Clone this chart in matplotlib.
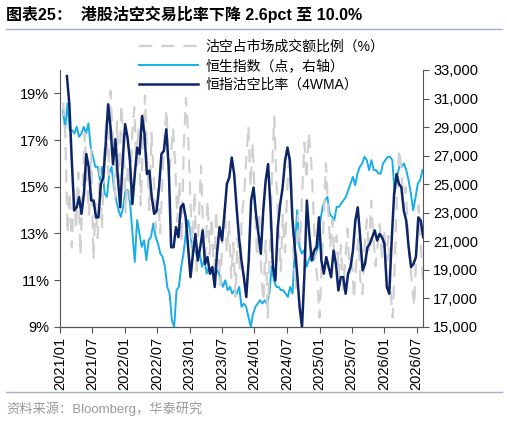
import matplotlib
matplotlib.use("Agg")
import matplotlib.pyplot as plt
import matplotlib.dates as mdates
from matplotlib.ticker import FuncFormatter
import numpy as np
import pandas as pd

plt.rcParams['font.family'] = ['Liberation Sans', 'Noto Sans CJK SC', 'DejaVu Sans']

# 恒指沽空比率 (4WMA), %
ratio_4wma = [19.74, 18.53, 16.11, 13.98, 14.12, 14.55, 13.84, 14.69, 16.40, 15.83,
              14.41, 14.41, 13.69, 13.69, 15.12, 15.40, 16.82, 18.53, 17.53, 15.97,
              17.04, 15.40, 14.12, 16.11, 17.68, 17.11, 16.11, 14.26, 15.54, 16.68,
              16.40, 18.03, 17.25, 15.54, 15.69, 14.55, 13.84, 13.98, 14.97, 16.40,
              16.54, 17.46, 15.83, 12.41, 12.41, 13.27, 12.84, 14.12, 14.26, 13.69,
              12.41, 11.13, 12.13, 12.98, 11.84, 12.41, 13.13, 11.70, 11.99, 11.28,
              11.56, 10.71, 12.27, 13.27, 12.70, 13.84, 15.12, 15.40, 16.25, 15.54,
              14.12, 12.84, 11.84, 11.13, 10.28, 11.84, 14.41, 14.97, 13.84, 12.98,
              12.13, 13.98, 15.26, 15.97, 14.12, 11.56, 10.99, 13.27, 14.26, 14.97,
              16.11, 16.68, 16.11, 13.69, 12.41, 11.28, 9.85, 9.00, 11.28, 14.41,
              12.98, 11.84, 12.27, 12.41, 13.69, 11.84, 11.28, 11.99, 11.56, 11.13,
              12.27, 11.70, 10.56, 11.13, 11.13, 10.42, 11.28, 11.56, 12.27, 13.55,
              14.12, 12.84, 11.42, 11.70, 12.41, 12.56, 12.84, 13.13, 12.70, 12.98,
              12.84, 12.56, 10.71, 10.42, 12.70, 14.69, 15.54, 15.12, 14.97, 13.98,
              13.55, 12.41, 11.56, 11.70, 11.99, 13.69, 13.55, 12.84]

# 恒生指数 (点)
hsi = [30187, 28902, 30654, 28785, 28785, 28551, 29019, 28318, 28551, 29019,
       28551, 29252, 27617, 26916, 26215, 26215, 25280, 26215, 24346, 24112,
       25748, 26215, 24813, 23879, 23178, 22710, 23411, 24579, 24579, 23645,
       21542, 19556, 22477, 21542, 20607, 21075, 19673, 21075, 21308, 22243,
       21308, 20841, 20140, 19907, 19206, 17804, 17336, 15467, 15000, 17570,
       17804, 19206, 20140, 21542, 22477, 21542, 20140, 20607, 19673, 20140,
       19206, 19673, 18738, 19206, 18738, 19206, 18738, 18972, 18271, 17804,
       18271, 17570, 17804, 17336, 17570, 17336, 17804, 16402, 16636, 16402,
       15701, 15000, 15935, 16402, 16636, 16869, 16636, 16869, 16636, 17336,
       19206, 18271, 17804, 17804, 17570, 17570, 17336, 17103, 17804, 17336,
       20607, 23178, 20607, 20140, 20374, 19206, 19673, 20140, 19673, 20140,
       20607, 22477, 23411, 23879, 24112, 22944, 22710, 22477, 23411, 23411,
       23645, 23879, 24112, 24579, 25047, 25514, 24930, 25748, 26215, 26449,
       26916, 26682, 25981, 26682, 25981, 25981, 25748, 25748, 26449, 26682,
       26916, 26916, 26682, 24346, 25514, 26215, 26215, 26449, 25981, 25280,
       24346, 23178, 24066, 25047, 25280, 25981]

# 沽空占市场成交额比例 (%), weekly
short_pct = [18.6, 17.2, 13.0, 14.8, 12.4, 14.9, 13.2, 15.6, 12.1, 14.8,
             17.3, 15.2, 13.8, 16.6, 11.9, 14.3, 12.8, 15.8, 13.2, 16.4,
             17.9, 15.5, 19.1, 17.0, 14.5, 17.8, 15.2, 18.5, 16.8, 13.9,
             16.0, 14.5, 17.2, 18.4, 15.9, 17.6, 14.2, 16.8, 18.9, 16.1,
             14.0, 17.3, 15.5, 13.2, 14.9, 13.0, 15.1, 17.2, 18.3, 15.4,
             16.3, 17.5, 16.0, 13.5, 15.2, 12.6, 16.8, 18.8, 17.3, 14.6,
             12.2, 14.8, 11.4, 13.6, 15.9, 13.0, 11.6, 14.4, 12.1, 13.7,
             11.0, 14.0, 12.5, 10.8, 12.9, 14.1, 12.2, 13.5, 11.1, 12.6,
             10.3, 12.8, 11.5, 13.8, 14.6, 16.2, 17.6, 15.0, 16.9, 14.3,
             12.0, 13.9, 11.2, 10.1, 12.7, 9.4, 12.4, 15.6, 18.0, 15.3,
             13.2, 11.4, 13.8, 12.2, 14.8, 16.5, 15.0, 12.0, 10.6, 13.8,
             12.6, 14.7, 16.9, 15.3, 17.3, 16.4, 14.5, 12.1, 11.0, 9.4,
             11.5, 13.8, 16.0, 14.1, 12.4, 13.6, 11.8, 12.9, 11.2, 12.5,
             10.6, 11.9, 13.2, 11.3, 12.0, 10.2, 11.7, 12.8, 11.0, 10.4,
             12.4, 13.6, 12.2, 14.4, 12.9, 11.6, 12.5, 13.4, 12.0, 13.2,
             11.8, 12.9, 10.6, 9.4, 11.8, 14.8, 16.6, 15.8, 14.1, 15.0,
             13.2, 11.8, 10.8, 9.9, 12.3, 14.2, 12.6, 11.0]

d_ratio = pd.date_range("2021-02-10", "2026-08-07", periods=len(ratio_4wma))
d_hsi = pd.date_range("2021-01-18", "2026-08-03", periods=len(hsi))
d_short = pd.date_range("2021-01-20", "2026-08-05", periods=len(short_pct))

fig = plt.figure(figsize=(5.07, 4.24), dpi=100)
ax = fig.add_axes([0.118, 0.229, 0.716, 0.606])
ax2 = ax.twinx()

l1, = ax.plot(d_short, short_pct, color='#d0d0d0', lw=1.6, dashes=(6, 4),
              label='沽空占市场成交额比例（%）')
l3, = ax.plot(d_ratio, ratio_4wma, color='#0c2468', lw=1.8, label='恒指沽空比率（4WMA）')
l2, = ax2.plot(d_hsi, hsi, color='#1aaee8', lw=1.4, label='恒生指数（点，右轴）')
ax.set_zorder(ax2.get_zorder() + 1)
ax.patch.set_visible(False)

ax.set_ylim(9, 20)
ax.set_yticks([9, 11, 13, 15, 17, 19])
ax.yaxis.set_major_formatter(FuncFormatter(lambda v, p: f"{v:.0f}%"))
ax2.set_ylim(15000, 33000)
ax2.set_yticks(range(15000, 33001, 2000))
ax2.yaxis.set_major_formatter(FuncFormatter(lambda v, p: f"{v:,.0f}"))

ax.set_xlim(pd.Timestamp("2021-01-01"), pd.Timestamp("2026-08-05"))
ax.xaxis.set_major_locator(mdates.MonthLocator(bymonth=[1, 7]))
ax.xaxis.set_major_formatter(mdates.DateFormatter("%Y/%m"))
plt.setp(ax.get_xticklabels(), rotation=90)

for a in (ax, ax2):
    a.spines['top'].set_visible(False)
    for s in a.spines.values():
        s.set_color('#555555')
    a.tick_params(labelsize=10.5, color='#555555', length=4)
ax.spines['right'].set_visible(False)
ax2.spines['left'].set_visible(False)

fig.legend(handles=[l1, l2, l3], loc='upper left', bbox_to_anchor=(0.25, 0.935),
           frameon=False, fontsize=10, handlelength=4.2, labelspacing=0.35,
           handletextpad=0.6)

fig.text(0.012, 0.965, "图表25：  港股沽空交易比率下降 2.6pct 至 10.0%",
         fontsize=11.5, fontweight='bold', va='center')
fig.add_artist(plt.Line2D([0.012, 0.99], [0.932, 0.932], color='#9fb0c8', lw=1))
fig.add_artist(plt.Line2D([0.012, 0.99], [0.075, 0.075], color='#9fb0c8', lw=1))
fig.text(0.012, 0.035, "资料来源：Bloomberg，华泰研究", fontsize=9.5, color='#999999',
         va='center')

fig.savefig("out.png", dpi=100)
